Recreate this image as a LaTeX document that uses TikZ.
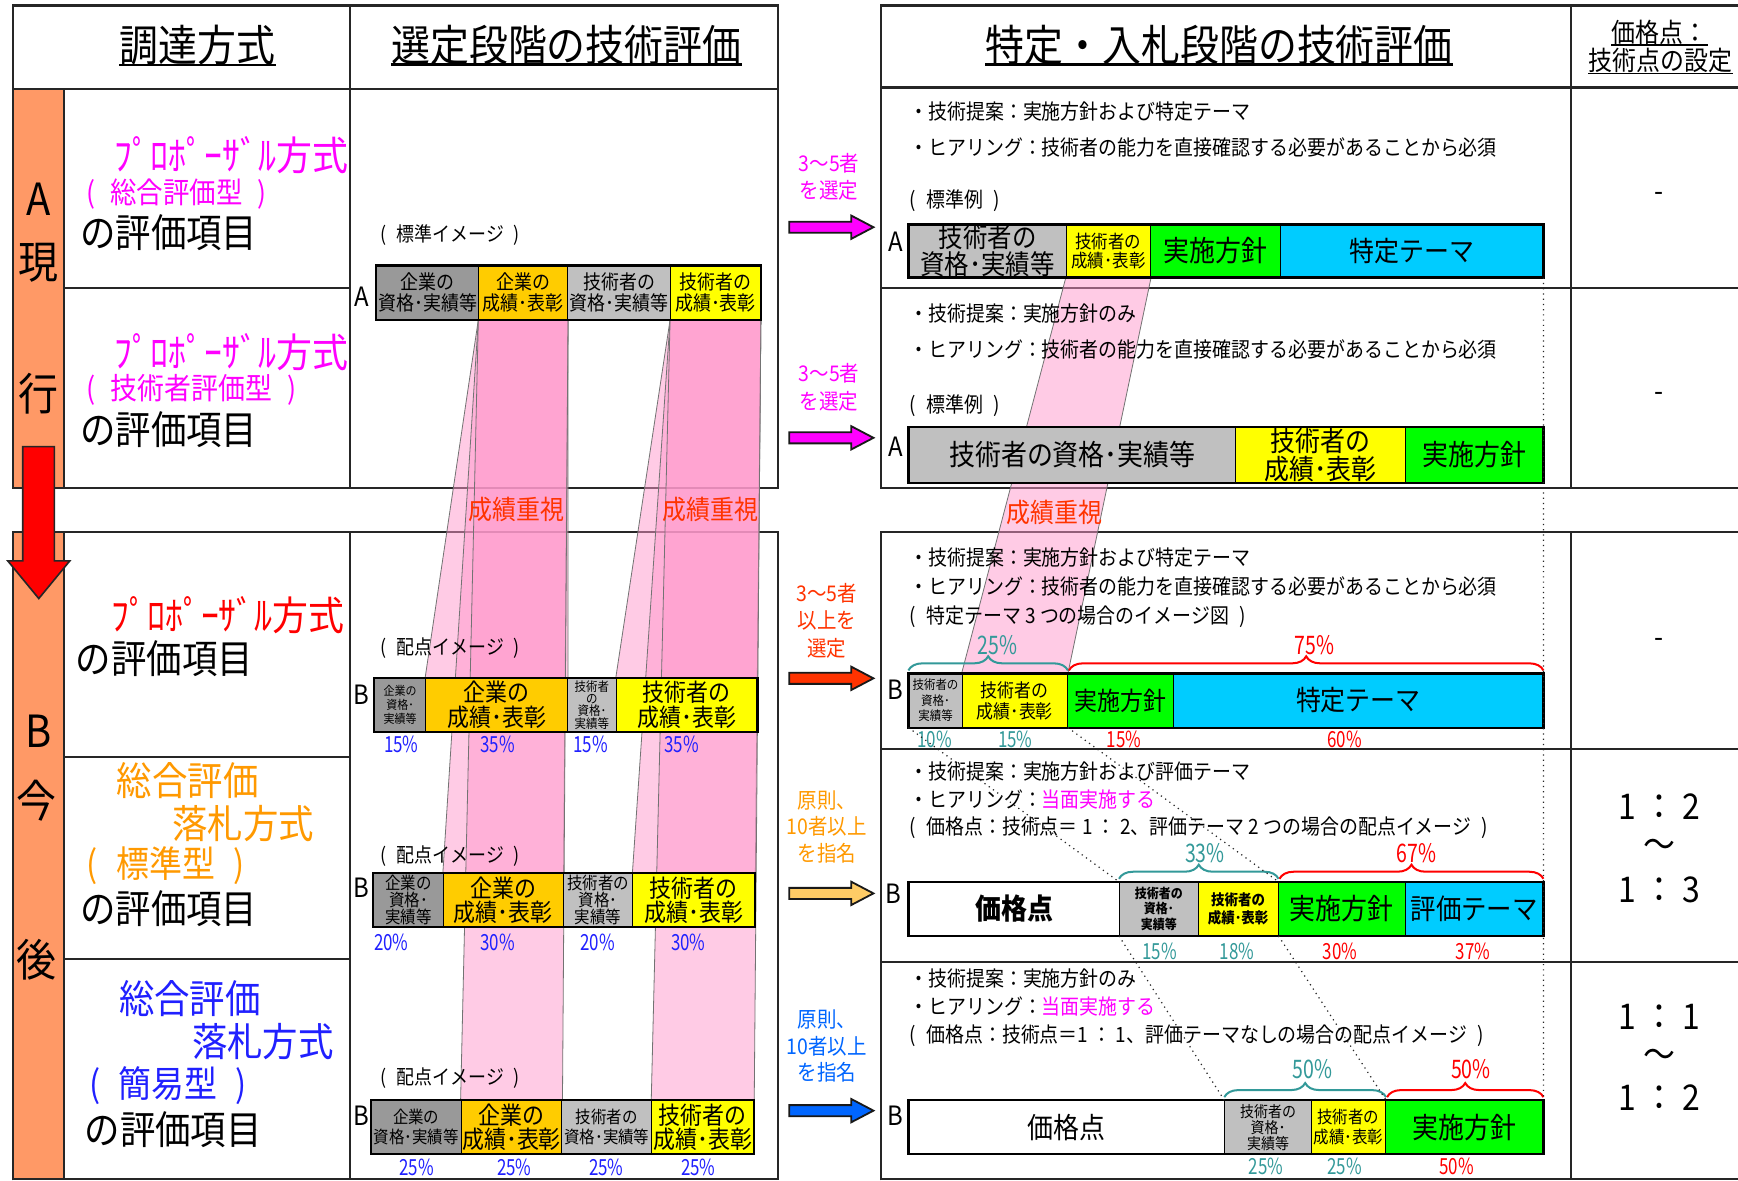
\documentclass[tikz,border=0pt]{standalone}
\usepackage{fontspec}
\setmainfont{Noto Sans CJK JP}[FakeStretch=0.9]
\usetikzlibrary{decorations.pathreplacing}
\pgfdeclarelayer{back}
\pgfdeclarelayer{bands}
\pgfsetlayers{back,bands,main}
\definecolor{dgray}{HTML}{999999}
\definecolor{lgray}{HTML}{C0C0C0}
\definecolor{gold}{HTML}{FFCC00}
\definecolor{yel}{HTML}{FFFF00}
\definecolor{grn}{HTML}{00FF00}
\definecolor{cyn}{HTML}{00CCFF}
\definecolor{bandorange}{HTML}{FF9966}
\definecolor{pinkc}{HTML}{FF99CC}
\definecolor{mag}{HTML}{FF00FF}
\definecolor{redor}{HTML}{FF3300}
\definecolor{orng}{HTML}{FF9900}
\definecolor{blu}{HTML}{2020FF}
\definecolor{arrblue}{HTML}{0066FF}
\definecolor{tealc}{HTML}{339999}
\definecolor{lorange}{HTML}{FFCC66}
\newcommand\fpx[1]{\fontsize{\fpeval{#1*0.55}pt}{\fpeval{#1*0.594}pt}\selectfont}
\newcommand\fpxb[2]{\fontsize{\fpeval{#1*0.55}pt}{\fpeval{#2*0.55}pt}\selectfont}
\newcommand\pc[1]{\scalebox{0.85}[1]{#1}}
\newcommand\lp{(\hspace{0.5em}}
\newcommand\rp{\hspace{0.5em})}
\newcommand\seg[8]{\node[seg, fill=#6, minimum width={(#4-#2)*0.55pt}, minimum height={(#5-#3)*0.55pt}, font=#7] (#1) at ({(#2+#4)/2},{(#3+#5)/2}) {#8};}
\newcommand\pband[2]{\filldraw[pinkband] (#1.south west) -- (#1.south east) -- (#2.north east) -- (#2.north west) -- cycle;}
\newcommand\blockarrow[2]{\filldraw[fill=#2, draw=black!90, line width=0.9pt, line join=miter] (712,{#1-5}) -- (768,{#1-5}) -- (768,{#1-10.5}) -- (788,#1) -- (768,{#1+10.5}) -- (768,{#1+5}) -- (712,{#1+5}) -- cycle;}
\begin{document}
\begin{tikzpicture}[x=0.55pt,y=-0.55pt,
  frm/.style={draw=black!85, line width=1.1pt},
  seg/.style={draw=black, line width=0.5pt, inner sep=0pt, align=center, text=black},
  barframe/.style={draw=black, line width=1.1pt},
  pinkband/.style={fill=pinkc, fill opacity=0.5, draw=black!55, draw opacity=1, line width=0.4pt},
  lt/.style={anchor=west, inner sep=0pt},
  ct/.style={inner sep=0pt, align=center},
  pct/.style={inner sep=0pt, font=\fpx{20}},
  bpct/.style={inner sep=0pt, font=\fpx{23}},
  dotln/.style={dotted, line width=0.6pt, draw=black!85},
  mybrace/.style={decorate, decoration={brace, amplitude=7pt}, line width=1pt},
  ulin/.style={line width=1.3pt}]
\useasboundingbox (0,0) rectangle (1568,1065);
\begin{pgfonlayer}{back}
\fill[white] (0,0) rectangle (1568,1065);
\fill[bandorange] (12,80) rectangle (58,440);
\fill[bandorange] (12,480) rectangle (58,1065);
% left A
\draw[frm] (12,5) rectangle (702,440);
\draw[frm] (12,80) -- (702,80);
\draw[frm] (58,80) -- (58,440);
\draw[frm] (316,5) -- (316,440);
\draw[frm] (58,260) -- (316,260);
% left B
\draw[frm] (12,1065) -- (12,480) -- (702,480) -- (702,1065);
\draw[frm] (58,480) -- (58,1065);
\draw[frm] (316,480) -- (316,1065);
\draw[frm] (58,683) -- (316,683);
\draw[frm] (58,865) -- (316,865);
\draw[frm] (12,1064) -- (702,1064);
% right A
\draw[frm] (1568,5) -- (795,5) -- (795,440) -- (1568,440);
\draw[frm] (795,79) -- (1568,79);
\draw[frm] (1417,5) -- (1417,440);
\draw[frm] (795,260) -- (1568,260);
% right B
\draw[frm] (795,1065) -- (795,480) -- (1568,480);
\draw[frm] (1417,480) -- (1417,1065);
\draw[frm] (795,676) -- (1568,676);
\draw[frm] (795,868) -- (1568,868);
\draw[frm] (795,1064) -- (1568,1064);
\end{pgfonlayer}

% headers
\node[inner sep=0pt, font=\fpx{39}] (h1) at (178,41) {調達方式};
\node[inner sep=0pt, font=\fpx{39}] (h2) at (511,41) {選定段階の技術評価};
\node[inner sep=0pt, font=\fpx{39}] (h3) at (1100,41) {特定・入札段階の技術評価};
\node[inner sep=0pt, font=\fpx{24}] (h4) at (1497,29) {価格点：};
\node[inner sep=0pt, font=\fpx{24}] (h5) at (1498,55) {技術点の設定};
\foreach \h in {h1,h2,h3} \draw[ulin] ([yshift=-1.5pt]\h.base west) -- ([yshift=-1.5pt]\h.base east);
\foreach \h in {h4,h5} \draw[line width=0.8pt] ([yshift=-1.3pt]\h.base west) -- ([yshift=-1.3pt]\h.base east);

% band letters
\node[ct, font=\fpx{40}] (bA) at (35,180) {A};
\node[ct, font=\fpx{40}] (bGen) at (35,237) {現};
\node[ct, font=\fpx{40}] (bKo) at (35,355) {行};
\node[ct, font=\fpx{40}] (bB) at (35,660) {B};
\node[ct, font=\fpx{40}] (bIma) at (33,722) {今};
\node[ct, font=\fpx{40}] (bGo) at (33,866) {後};

% left column labels
\node[lt, font=\fpx{36}, text=mag] (t1a) at (103,140) {ﾌﾟﾛﾎﾟｰｻﾞﾙ方式};
\node[lt, font=\fpx{26.5}, text=mag] (t1b) at (78,175) {\lp 総合評価型\rp};
\node[lt, font=\fpx{35.5}] (t1c) at (72,210) {の評価項目};
\node[lt, font=\fpx{36}, text=mag] (t2a) at (103,318) {ﾌﾟﾛﾎﾟｰｻﾞﾙ方式};
\node[lt, font=\fpx{27}, text=mag] (t2b) at (78,352) {\lp 技術者評価型\rp};
\node[lt, font=\fpx{35.5}] (t2c) at (72,388) {の評価項目};
\node[lt, font=\fpx{36}, text=red] (t3a) at (100,555) {ﾌﾟﾛﾎﾟｰｻﾞﾙ方式};
\node[lt, font=\fpx{35.5}] (t3b) at (68,594) {の評価項目};
\node[lt, font=\fpx{35.5}, text=orng] (t4a) at (105,704) {総合評価};
\node[lt, font=\fpx{35.5}, text=orng] (t4b) at (155,743) {落札方式};
\node[lt, font=\fpx{33}, text=orng] (t4c) at (78,781) {\lp 標準型\rp};
\node[lt, font=\fpx{35.5}] (t4d) at (72,820) {の評価項目};
\node[lt, font=\fpx{35.5}, text=blu] (t5a) at (107,901) {総合評価};
\node[lt, font=\fpx{35.5}, text=blu] (t5b) at (173,940) {落札方式};
\node[lt, font=\fpx{33}, text=blu] (t5c) at (80,979) {\lp 簡易型\rp};
\node[lt, font=\fpx{35.5}] (t5d) at (76,1019) {の評価項目};

% column 2 bars
\node[lt, font=\fpx{18}] (c2a) at (343,212) {\lp 標準イメージ\rp};
\node[ct, font=\fpx{24}] (c2A) at (326,268) {A};
\seg{la1}{340}{240}{432}{288}{dgray}{\fpx{18}}{企業の\\資格･実績等}
\seg{la2}{432}{240}{512}{288}{gold}{\fpx{18}}{企業の\\成績･表彰}
\seg{la3}{512}{240}{605}{288}{lgray}{\fpx{18}}{技術者の\\資格･実績等}
\seg{la4}{605}{240}{686}{288}{yel}{\fpx{18}}{技術者の\\成績･表彰}
\draw[barframe] (la1.north west) rectangle (la4.south east);

\node[lt, font=\fpx{18}] (c2b) at (343,585) {\lp 配点イメージ\rp};
\node[ct, font=\fpx{24}] (c2B1) at (326,627) {B};
\seg{lb1a}{338}{612}{384}{660}{dgray}{\fpxb{11}{13}}{企業の\\資格･\\実績等}
\seg{lb1b}{384}{612}{512}{660}{gold}{\fpxb{22}{22}}{企業の\\成績･表彰}
\seg{lb1c}{512}{612}{556}{660}{lgray}{\fpxb{11.5}{11}}{技術者\\の\\資格･\\実績等}
\seg{lb1d}{556}{612}{683}{660}{yel}{\fpxb{22}{22}}{技術者の\\成績･表彰}
\draw[barframe] (lb1a.north west) rectangle (lb1d.south east);
\node[pct, text=blu] (p11) at (362,672) {\pc{15\%}};
\node[pct, text=blu] (p12) at (449,672) {\pc{35\%}};
\node[pct, text=blu] (p13) at (533,672) {\pc{15\%}};
\node[pct, text=blu] (p14) at (615,672) {\pc{35\%}};

\node[lt, font=\fpx{18}] (c2c) at (343,772) {\lp 配点イメージ\rp};
\node[ct, font=\fpx{24}] (c2B2) at (326,801) {B};
\seg{lb2a}{337}{788}{400}{836}{dgray}{\fpxb{15.5}{15}}{企業の\\資格･\\実績等}
\seg{lb2b}{400}{788}{508}{836}{gold}{\fpxb{22}{22}}{企業の\\成績･表彰}
\seg{lb2c}{508}{788}{571}{836}{lgray}{\fpxb{15.5}{15}}{技術者の\\資格･\\実績等}
\seg{lb2d}{571}{788}{681}{836}{yel}{\fpxb{22}{22}}{技術者の\\成績･表彰}
\draw[barframe] (lb2a.north west) rectangle (lb2d.south east);
\node[pct, text=blu] (p21) at (353,850) {\pc{20\%}};
\node[pct, text=blu] (p22) at (449,850) {\pc{30\%}};
\node[pct, text=blu] (p23) at (539,850) {\pc{20\%}};
\node[pct, text=blu] (p24) at (621,850) {\pc{30\%}};

\node[lt, font=\fpx{18}] (c2d) at (343,973) {\lp 配点イメージ\rp};
\node[ct, font=\fpx{24}] (c2B3) at (326,1007) {B};
\seg{lb3a}{335}{993}{416}{1041}{dgray}{\fpxb{15.5}{18}}{企業の\\資格･実績等}
\seg{lb3b}{416}{993}{507}{1041}{gold}{\fpxb{22}{22}}{企業の\\成績･表彰}
\seg{lb3c}{507}{993}{588}{1041}{lgray}{\fpxb{15.5}{18}}{技術者の\\資格･実績等}
\seg{lb3d}{588}{993}{680}{1041}{yel}{\fpxb{22}{22}}{技術者の\\成績･表彰}
\draw[barframe] (lb3a.north west) rectangle (lb3d.south east);
\node[pct, text=blu] (p31) at (376,1053) {\pc{25\%}};
\node[pct, text=blu] (p32) at (464,1053) {\pc{25\%}};
\node[pct, text=blu] (p33) at (547,1053) {\pc{25\%}};
\node[pct, text=blu] (p34) at (630,1053) {\pc{25\%}};

% right panel A1
\node[lt, font=\fpx{19}] (r1a) at (820,101) {・技術提案：実施方針および特定テーマ};
\node[lt, font=\fpx{19}] (r1b) at (820,133) {・ヒアリング：技術者の能力を直接確認する必要があることから必須};
\node[lt, font=\fpx{19}] (r1c) at (820,181) {\lp 標準例\rp};
\node[ct, font=\fpx{24}] (r1A) at (808,218) {A};
\seg{ra1a}{820}{203}{962}{250}{lgray}{\fpxb{24.5}{22}}{技術者の\\資格･実績等}
\seg{ra1b}{962}{203}{1038}{250}{yel}{\fpxb{16.5}{17}}{技術者の\\成績･表彰}
\seg{ra1c}{1038}{203}{1155}{250}{grn}{\fpx{26}}{実施方針}
\seg{ra1d}{1155}{203}{1392}{250}{cyn}{\fpx{25}}{特定テーマ}
\draw[barframe] (ra1a.north west) rectangle (ra1d.south east);
\node[ct, font=\fpx{26}] (d1) at (1497,178) {-};

% right panel A2
\node[lt, font=\fpx{19}] (r2a) at (820,283) {・技術提案：実施方針のみ};
\node[lt, font=\fpx{19}] (r2b) at (820,315) {・ヒアリング：技術者の能力を直接確認する必要があることから必須};
\node[lt, font=\fpx{19}] (r2c) at (820,366) {\lp 標準例\rp};
\node[ct, font=\fpx{24}] (r2A) at (808,403) {A};
\seg{ra2a}{820}{386}{1115}{435}{lgray}{\fpx{26}}{技術者の資格･実績等}
\seg{ra2b}{1115}{386}{1268}{435}{yel}{\fpxb{25}{23}}{技術者の\\成績･表彰}
\seg{ra2c}{1268}{386}{1392}{435}{grn}{\fpx{26}}{実施方針}
\draw[barframe] (ra2a.north west) rectangle (ra2c.south east);
\node[ct, font=\fpx{26}] (d2) at (1497,358) {-};

% right panel B1
\node[lt, font=\fpx{19}] (r3a) at (820,503) {・技術提案：実施方針および特定テーマ};
\node[lt, font=\fpx{19}] (r3b) at (820,529) {・ヒアリング：技術者の能力を直接確認する必要があることから必須};
\node[lt, font=\fpx{19}] (r3c) at (820,556) {\lp 特定テーマ 3 つの場合のイメージ図\rp};
\node[ct, font=\fpx{24}] (r3B) at (808,622) {B};
\seg{rb1a}{820}{608}{868}{656}{lgray}{\fpxb{11.5}{14}}{技術者の\\資格･\\実績等}
\seg{rb1b}{868}{608}{963}{656}{yel}{\fpxb{17}{19}}{技術者の\\成績･表彰}
\seg{rb1c}{963}{608}{1059}{656}{grn}{\fpx{23}}{実施方針}
\seg{rb1d}{1059}{608}{1392}{656}{cyn}{\fpx{25}}{特定テーマ}
\draw[barframe] (rb1a.north west) rectangle (rb1d.south east);
\draw[mybrace, tealc] ([yshift=1.5pt]rb1a.north west) -- ([yshift=1.5pt]rb1b.north east);
\draw[mybrace, red] ([yshift=1.5pt,xshift=1pt]rb1c.north west) -- ([yshift=1.5pt]rb1d.north east);
\node[bpct, text=tealc] (q1) at (900,582) {\pc{25\%}};
\node[bpct, text=red] (q2) at (1186,582) {\pc{75\%}};
\node[pct, text=tealc] (s11) at (843,667) {\pc{10\%}};
\node[pct, text=tealc] (s12) at (916,667) {\pc{15\%}};
\node[pct, text=red] (s13) at (1014,667) {\pc{15\%}};
\node[pct, text=red] (s14) at (1213,667) {\pc{60\%}};
\node[ct, font=\fpx{26}] (d3) at (1497,580) {-};

% right panel B2
\node[lt, font=\fpx{19}] (r4a) at (820,696) {・技術提案：実施方針および評価テーマ};
\node[lt, font=\fpx{19}] (r4b) at (820,721) {・ヒアリング：\textcolor{mag}{当面実施する}};
\node[lt, font=\fpx{19}] (r4c) at (820,747) {\lp 価格点：技術点＝ 1 ： 2、評価テーマ 2 つの場合の配点イメージ\rp};
\node[ct, font=\fpx{24}] (r4B) at (806,806) {B};
\seg{rb2a}{820}{796}{1010}{844}{white}{\fpx{26}\bfseries}{価格点}
\seg{rb2b}{1010}{796}{1081}{844}{lgray}{\fpxb{12}{14}\bfseries}{技術者の\\資格･\\実績等}
\seg{rb2c}{1081}{796}{1153}{844}{yel}{\fpxb{13.5}{17}\bfseries}{技術者の\\成績･表彰}
\seg{rb2d}{1153}{796}{1268}{844}{grn}{\fpx{26}}{実施方針}
\seg{rb2e}{1268}{796}{1392}{844}{cyn}{\fpx{25.5}}{評価テーマ}
\draw[barframe] (rb2a.north west) rectangle (rb2e.south east);
\draw[mybrace, tealc] ([yshift=1.5pt]rb2b.north west) -- ([yshift=1.5pt]rb2c.north east);
\draw[mybrace, red] ([yshift=1.5pt,xshift=1pt]rb2d.north west) -- ([yshift=1.5pt]rb2e.north east);
\node[bpct, text=tealc] (q3) at (1087,770) {\pc{33\%}};
\node[bpct, text=red] (q4) at (1278,770) {\pc{67\%}};
\node[pct, text=tealc] (s21) at (1046,858) {\pc{15\%}};
\node[pct, text=tealc] (s22) at (1116,858) {\pc{18\%}};
\node[pct, text=red] (s23) at (1209,858) {\pc{30\%}};
\node[pct, text=red] (s24) at (1329,858) {\pc{37\%}};
\node[ct, font=\fpx{32}] (k1) at (1497,728) {1 ： 2};
\node[ct, font=\fpx{32}] (k2) at (1497,765) {～};
\node[ct, font=\fpx{32}] (k3) at (1497,803) {1 ： 3};

% right panel B3
\node[lt, font=\fpx{19}] (r5a) at (820,883) {・技術提案：実施方針のみ};
\node[lt, font=\fpx{19}] (r5b) at (820,908) {・ヒアリング：\textcolor{mag}{当面実施する}};
\node[lt, font=\fpx{19}] (r5c) at (820,934) {\lp 価格点：技術点＝1 ： 1、評価テーマなしの場合の配点イメージ\rp};
\node[ct, font=\fpx{24}] (r5B) at (808,1007) {B};
\seg{rb3a}{820}{993}{1105}{1041}{white}{\fpx{26}}{価格点}
\seg{rb3b}{1105}{993}{1183}{1041}{lgray}{\fpxb{14}{14.5}}{技術者の\\資格･\\実績等}
\seg{rb3c}{1183}{993}{1250}{1041}{yel}{\fpxb{15.5}{18}}{技術者の\\成績･表彰}
\seg{rb3d}{1250}{993}{1392}{1041}{grn}{\fpx{26}}{実施方針}
\draw[barframe] (rb3a.north west) rectangle (rb3d.south east);
\draw[mybrace, tealc] ([yshift=1.5pt]rb3b.north west) -- ([yshift=1.5pt]rb3c.north east);
\draw[mybrace, red] ([yshift=1.5pt,xshift=1pt]rb3d.north west) -- ([yshift=1.5pt]rb3d.north east);
\node[bpct, text=tealc] (q5) at (1184,965) {\pc{50\%}};
\node[bpct, text=red] (q6) at (1327,965) {\pc{50\%}};
\node[pct, text=tealc] (s31) at (1142,1052) {\pc{25\%}};
\node[pct, text=tealc] (s32) at (1213,1052) {\pc{25\%}};
\node[pct, text=red] (s33) at (1314,1052) {\pc{50\%}};
\node[ct, font=\fpx{32}] (k4) at (1497,917) {1 ： 1};
\node[ct, font=\fpx{32}] (k5) at (1497,955) {～};
\node[ct, font=\fpx{32}] (k6) at (1497,990) {1 ： 2};

% pink bands
\begin{pgfonlayer}{bands}
\pband{la2}{lb1b}
\pband{la2}{lb2b}
\pband{la2}{lb3b}
\pband{la4}{lb1d}
\pband{la4}{lb2d}
\pband{la4}{lb3d}
\pband{ra1b}{rb1b}
\end{pgfonlayer}
\node[ct, font=\fpx{24}, text=redor] (e1) at (466,460) {成績重視};
\node[ct, font=\fpx{24}, text=redor] (e2) at (641,460) {成績重視};
\node[ct, font=\fpx{24}, text=redor] (e3) at (951,462) {成績重視};

% dotted guide lines
\draw[dotln] (ra1d.south east) -- (rb3d.north east);
\draw[dotln] (rb1a.south west) -- (rb2b.north west);
\draw[dotln] (rb1b.south east) -- (rb2c.north east);
\draw[dotln] (rb2b.south west) -- (rb3b.north west);
\draw[dotln] (rb2c.south east) -- (rb3c.north east);

% arrows between panels
\blockarrow{205}{mag}
\blockarrow{395}{mag}
\blockarrow{612}{redor}
\blockarrow{806}{lorange}
\blockarrow{1002}{arrblue}
\node[ct, font=\fpxb{19.5}{25}, text=mag] (m1) at (748,159.5) {3～5者\\を選定};
\node[ct, font=\fpxb{19.5}{25}, text=mag] (m2) at (748,349.5) {3～5者\\を選定};
\node[ct, font=\fpxb{19.5}{24.5}, text=redor] (m3) at (746,560) {3～5者\\以上を\\選定};
\node[ct, font=\fpxb{19.5}{24}, text=orng] (m4) at (746,746) {原則、\\10者以上\\を指名};
\node[ct, font=\fpxb{19.5}{24}, text=arrblue] (m5) at (746,944) {原則、\\10者以上\\を指名};

% red down arrow
\filldraw[fill=red, draw=black!85, line width=0.8pt, line join=miter] (20.5,403) -- (49,403) -- (49,506) -- (63,506) -- (35,540) -- (7,506) -- (20.5,506) -- cycle;
\end{tikzpicture}
\end{document}
